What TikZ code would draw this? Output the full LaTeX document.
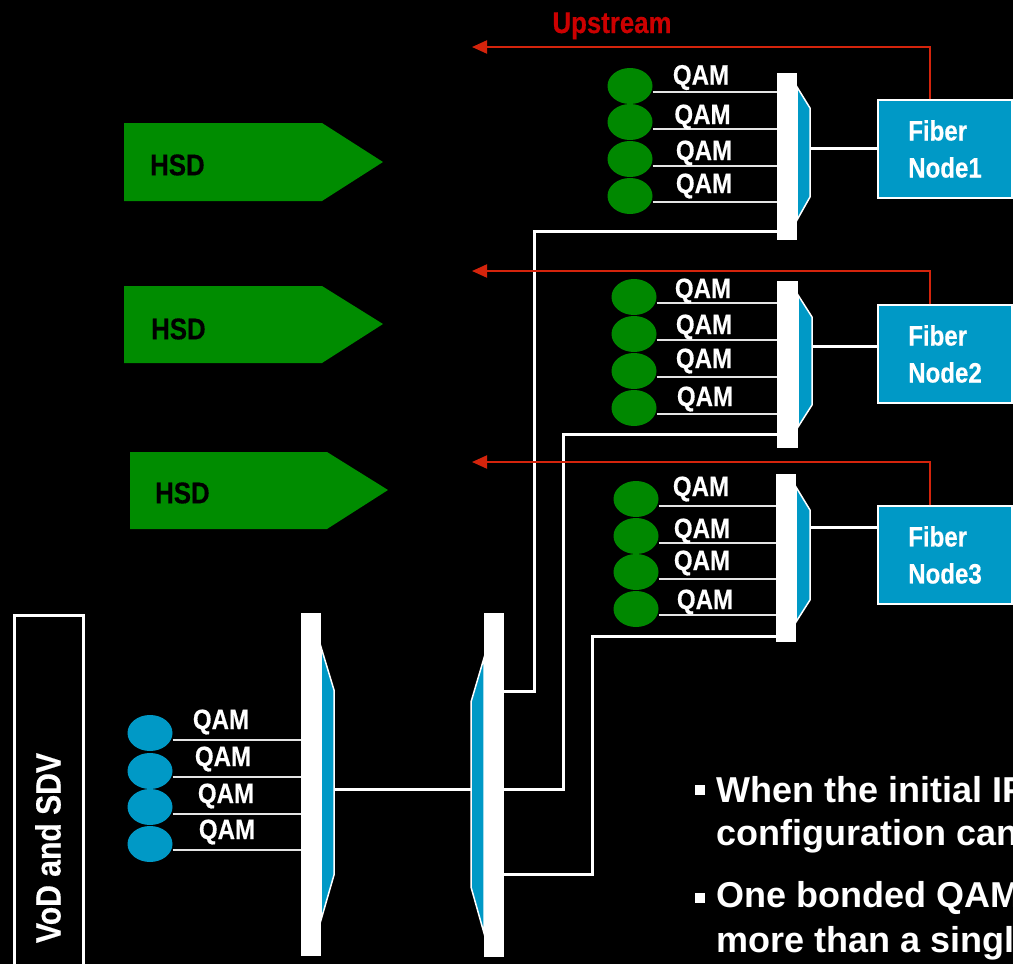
\documentclass[tikz,border=0pt]{standalone}
\usepackage{fontspec}
\setmainfont{Liberation Sans}
\newfontfamily\nf{Liberation Sans}[FakeStretch=0.86, FakeBold=0.4]
\usetikzlibrary{arrows.meta,shapes.geometric}
\definecolor{qgreen}{RGB}{0,136,0}
\definecolor{hgreen}{RGB}{0,140,0}
\definecolor{cblue}{RGB}{0,153,198}
\definecolor{ured}{RGB}{212,36,12}
\definecolor{utext}{RGB}{204,0,0}
\definecolor{lgray}{RGB}{228,228,228}
\tikzset{
  qamg/.style={ellipse, fill=qgreen, minimum width=45pt, minimum height=36pt, inner sep=0pt},
  qamb/.style={ellipse, fill=cblue, minimum width=45pt, minimum height=36pt, inner sep=0pt},
  qlab/.style={text=white, font=\nf\bfseries\fontsize{28}{30}\selectfont, inner sep=0pt},
  barbox/.style={rectangle, fill=white, inner sep=0pt},
  trap/.style={fill=cblue, draw=white, line width=1.5pt, line join=miter},
  fiber/.style={rectangle, fill=cblue, draw=white, line width=1.5pt, minimum width=134pt, minimum height=98pt, text=white, align=left, font=\nf\bfseries\fontsize{28}{37}\selectfont, inner sep=0pt},
  wire/.style={draw=white, line width=3pt, line join=miter},
  qline/.style={draw=lgray, line width=2pt},
  up/.style={draw=ured, line width=2pt, -{Triangle[length=15pt,width=13pt]}},
  hsd/.style={fill=hgreen},
  hsdtext/.style={text=black, font=\nf\bfseries\fontsize{30}{32}\selectfont, inner sep=0pt, anchor=west},
  bultext/.style={text=white, font=\bfseries\fontsize{36}{40}\selectfont, inner sep=0pt, anchor=base west},
}
\begin{document}
\begin{tikzpicture}[x=1pt,y=-1pt]
\useasboundingbox (0,0) rectangle (1013,964);
\fill[black] (0,0) rectangle (1013,964);
\clip (0,0) rectangle (1013,964);

% HSD arrows
\fill[hsd] (124,123) -- (322,123) -- (383,162) -- (322,201) -- (124,201) -- cycle;
\fill[hsd] (124,286) -- (322,286) -- (383,324) -- (322,363) -- (124,363) -- cycle;
\fill[hsd] (130,452) -- (327,452) -- (388,490) -- (327,529) -- (130,529) -- cycle;
\node[hsdtext] (h1) at (150,165) {HSD};
\node[hsdtext] (h2) at (151,329) {HSD};
\node[hsdtext] (h3) at (155,493) {HSD};

% Upstream label
\node[text=utext, font=\nf\bfseries\fontsize{30}{32}\selectfont, inner sep=0pt, anchor=base] (ul) at (612,33) {Upstream};

% bars
\node[barbox, minimum width=20pt, minimum height=167pt] (b1) at (787,156.5) {};
\node[barbox, minimum width=21pt, minimum height=167pt] (b2) at (787.5,364.5) {};
\node[barbox, minimum width=20pt, minimum height=168pt] (b3) at (786,558) {};
\node[barbox, minimum width=20pt, minimum height=343pt] (bL) at (311,784.5) {};
\node[barbox, minimum width=20pt, minimum height=344pt] (bR) at (494,785) {};

% trapezoids
\filldraw[trap] (797,87) -- (810,108) -- (810,197) -- (797,220) -- cycle;
\filldraw[trap] (798,295) -- (812,317) -- (812,405) -- (798,427) -- cycle;
\filldraw[trap] (796,487) -- (810,510) -- (810,600) -- (796,622) -- cycle;
\filldraw[trap] (321,647) -- (334,690) -- (334,875) -- (321,920) -- cycle;
\filldraw[trap] (484,658) -- (471,702) -- (471,887) -- (484,933) -- cycle;

% fiber nodes
\node[fiber] (f1) at (945,149) {Fiber\\Node1};
\node[fiber] (f2) at (945,354) {Fiber\\Node2};
\node[fiber] (f3) at (945,555) {Fiber\\Node3};

% QAM circles group 1
\node[qamg] (c11) at (630,86) {};
\node[qamg] (c12) at (630,122) {};
\node[qamg] (c13) at (630,159) {};
\node[qamg] (c14) at (630,196) {};
% group 2
\node[qamg] (c21) at (634,297) {};
\node[qamg] (c22) at (634,334) {};
\node[qamg] (c23) at (634,371) {};
\node[qamg] (c24) at (634,408) {};
% group 3
\node[qamg] (c31) at (636,499) {};
\node[qamg] (c32) at (636,536) {};
\node[qamg] (c33) at (636,572) {};
\node[qamg] (c34) at (636,609) {};
% VoD group
\node[qamb] (v1) at (150,733) {};
\node[qamb] (v2) at (150,771) {};
\node[qamb] (v3) at (150,807) {};
\node[qamb] (v4) at (150,844) {};

% QAM lines
\draw[qline] (c11.east |- 0,92) -- (b1.west |- 0,92);
\draw[qline] (c12.east |- 0,129) -- (b1.west |- 0,129);
\draw[qline] (c13.east |- 0,166) -- (b1.west |- 0,166);
\draw[qline] (c14.east |- 0,202) -- (b1.west |- 0,202);
\draw[qline] (c21.east |- 0,303) -- (b2.west |- 0,303);
\draw[qline] (c22.east |- 0,340) -- (b2.west |- 0,340);
\draw[qline] (c23.east |- 0,377) -- (b2.west |- 0,377);
\draw[qline] (c24.east |- 0,414) -- (b2.west |- 0,414);
\draw[qline] (c31.east |- 0,506) -- (b3.west |- 0,506);
\draw[qline] (c32.east |- 0,543) -- (b3.west |- 0,543);
\draw[qline] (c33.east |- 0,579) -- (b3.west |- 0,579);
\draw[qline] (c34.east |- 0,615) -- (b3.west |- 0,615);
\draw[qline] (v1.east |- 0,740) -- (bL.west |- 0,740);
\draw[qline] (v2.east |- 0,777) -- (bL.west |- 0,777);
\draw[qline] (v3.east |- 0,814) -- (bL.west |- 0,814);
\draw[qline] (v4.east |- 0,850) -- (bL.west |- 0,850);

% QAM labels
\node[qlab] (q11) at (701,77.5) {QAM};
\node[qlab] (q12) at (702.5,117) {QAM};
\node[qlab] (q13) at (704,153) {QAM};
\node[qlab] (q14) at (704,186) {QAM};
\node[qlab] (q21) at (703,291) {QAM};
\node[qlab] (q22) at (704,327) {QAM};
\node[qlab] (q23) at (704,361) {QAM};
\node[qlab] (q24) at (705,399) {QAM};
\node[qlab] (q31) at (701,489) {QAM};
\node[qlab] (q32) at (702,531) {QAM};
\node[qlab] (q33) at (702,563) {QAM};
\node[qlab] (q34) at (705,602) {QAM};
\node[qlab] (qv1) at (221,722) {QAM};
\node[qlab] (qv2) at (223,759) {QAM};
\node[qlab] (qv3) at (226,796) {QAM};
\node[qlab] (qv4) at (227,832) {QAM};

% trapezoid to fiber
\draw[wire] (f1.west |- 0,148) -- (810,148);
\draw[wire] (f2.west |- 0,346) -- (812,346);
\draw[wire] (f3.west |- 0,527) -- (810,527);

% VoD to splitter
\coordinate (tLo) at (334,789);
\coordinate (tRi) at (471,789);
\draw[wire] (tLo) -- (tRi);

% splitter outputs
\draw[wire] (bR.east |- 0,691) -| (534,231) -- (b1.west |- 0,231);
\draw[wire] (bR.east |- 0,789) -| (563,434) -- (b2.west |- 0,434);
\draw[wire] (bR.east |- 0,874) -| (592,636) -- (b3.west |- 0,636);

% upstream arrows
\coordinate (u1) at (472,47);
\coordinate (u2) at (472,271);
\coordinate (u3) at (472,462);
\draw[up] (f1.north -| 930,0) |- (u1);
\draw[up] (f2.north -| 930,0) |- (u2);
\draw[up] (f3.north -| 930,0) |- (u3);

% VoD box
\draw[white, line width=3pt] (14,615) rectangle (83,980);
\node[rotate=90, text=white, font=\nf\bfseries\fontsize{35}{38}\selectfont, inner sep=0pt] (vod) at (48,848) {VoD and SDV};

% bullet text
\fill[white] (695,785) rectangle (705,795);
\fill[white] (695,893) rectangle (705,903);
\node[bultext] (t1) at (716,802) {When the initial IP};
\node[bultext] (t2) at (716,845) {configuration can};
\node[bultext] (t3) at (716,907) {One bonded QAM};
\node[bultext] (t4) at (716,952) {more than a single};
\end{tikzpicture}
\end{document}
